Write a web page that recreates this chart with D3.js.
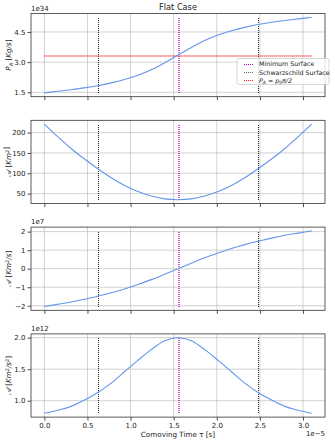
<!DOCTYPE html>
<html>
<head>
<meta charset="utf-8">
<script src="https://d3js.org/d3.v7.min.js"></script>
<style>
  body { margin: 0; background: #fff; }
  svg { font-family: "DejaVu Sans", sans-serif; }
</style>
</head>
<body>
<svg id="chart" width="335" height="441"></svg>
<script>
// comoving time, units of 1e-5 s
const tau = [0, 0.155, 0.31, 0.465, 0.62, 0.775, 0.93, 1.085, 1.24, 1.395, 1.55,
  1.705, 1.86, 2.015, 2.17, 2.325, 2.48, 2.635, 2.79, 2.945, 3.1];
// P_A, units of 1e34 Kg/s
const pA = [1.47, 1.55, 1.63, 1.72, 1.83, 1.97, 2.14, 2.35, 2.62, 2.97, 3.35,
  3.73, 4.08, 4.35, 4.56, 4.73, 4.87, 4.98, 5.07, 5.15, 5.23];
// A, Km^2
const area = [221, 190, 161, 135, 111, 89, 70, 55, 44, 37, 35,
  37, 44, 55, 70, 89, 111, 135, 161, 190, 221];
// dA/dt, units of 1e7 Km^2/s
const areaDot = [-2.04, -1.92, -1.80, -1.65, -1.48, -1.30, -1.09, -0.85, -0.59, -0.30, 0,
  0.30, 0.59, 0.85, 1.09, 1.30, 1.48, 1.65, 1.80, 1.92, 2.04];
// d2A/dt2, units of 1e12 Km^2/s^2
const areaDDot = [0.80, 0.85, 0.91, 1.01, 1.13, 1.28, 1.46, 1.64, 1.81, 1.95, 2.0,
  1.95, 1.81, 1.64, 1.46, 1.28, 1.13, 1.01, 0.91, 0.85, 0.80];

const tauMinSurface = 1.55;
const tauSchwarzschild = [0.62, 2.48];
const pHalf = 3.35; // p0*pi/2
const xTicks = [0, 0.5, 1.0, 1.5, 2.0, 2.5, 3.0];

const svg = d3.select('#chart');
const left = 31, right = 325;
const panelH = 83.2, step = 106.8, top0 = 13.5;

// x scale shared by all panels (matplotlib 5% margins)
const xPad = (d3.max(tau) - d3.min(tau)) * 0.05;
const x = d3.scaleLinear().domain([d3.min(tau) - xPad, d3.max(tau) + xPad]).range([left, right]);
const px = v => Math.round(x(v)) + 0.5; // crisp dotted lines

const panels = [
  { values: pA, ticks: [1.5, 3.0, 4.5], fmt: d3.format('.1f'), offset: '1e34', label: 'pa' },
  { values: area, ticks: [50, 100, 150, 200], fmt: d3.format('d'), offset: null, label: 'a' },
  { values: areaDot, ticks: [-2, -1, 0, 1, 2], fmt: d => d < 0 ? '\u2212' + Math.abs(d) : String(d), offset: '1e7', label: 'ad' },
  { values: areaDDot, ticks: [1.0, 1.5, 2.0], fmt: d3.format('.1f'), offset: '1e12', label: 'add' }
];

svg.append('text')
  .attr('x', (left + right) / 2).attr('y', 9.5)
  .attr('text-anchor', 'middle').attr('font-size', 8.2).attr('fill', '#222')
  .text('Flat Case');

panels.forEach((p, i) => {
  const top = top0 + i * step, bottom = top + panelH;
  const lo = d3.min(p.values), hi = d3.max(p.values);
  const pad = (hi - lo) * 0.05;
  const y = d3.scaleLinear().domain([lo - pad, hi + pad]).range([bottom, top]);
  const yLo = Math.round(y(lo)), yHi = Math.round(y(hi));
  const g = svg.append('g');

  // grid
  g.selectAll('.gx').data(xTicks).join('line')
    .attr('x1', d => x(d)).attr('x2', d => x(d)).attr('y1', top).attr('y2', bottom)
    .attr('stroke', '#b0b0b0').attr('stroke-width', 0.8).attr('opacity', 0.7);
  g.selectAll('.gy').data(p.ticks).join('line')
    .attr('x1', left).attr('x2', right).attr('y1', d => y(d)).attr('y2', d => y(d))
    .attr('stroke', '#b0b0b0').attr('stroke-width', 0.8).attr('opacity', 0.7);

  // axes
  const ya = g.append('g').attr('transform', `translate(${left},0)`)
    .call(d3.axisLeft(y).tickValues(p.ticks).tickFormat(p.fmt).tickSize(3.5).tickPadding(2));
  const xa = g.append('g').attr('transform', `translate(0,${bottom})`)
    .call(d3.axisBottom(x).tickValues(xTicks).tickFormat(i === 3 ? d3.format('.1f') : '').tickSize(3.5).tickPadding(2));
  [ya, xa].forEach(a => {
    a.select('.domain').remove();
    a.selectAll('text').attr('font-size', 7).attr('fill', '#222').attr('font-family', 'DejaVu Sans');
    a.selectAll('line').attr('stroke', '#222').attr('stroke-width', 0.8);
  });

  // vertical markers
  tauSchwarzschild.forEach(t => {
    g.append('line').attr('x1', px(t)).attr('x2', px(t)).attr('y1', yLo).attr('y2', yHi)
      .attr('stroke', '#222').attr('stroke-width', 1).attr('stroke-dasharray', '1,1');
  });
  // minimum surface, left unsnapped so it spreads over two columns like the reference
  g.append('line').attr('x1', Math.round(x(tauMinSurface)) + 1).attr('x2', Math.round(x(tauMinSurface)) + 1)
    .attr('y1', yLo).attr('y2', yHi)
    .attr('stroke', '#bf00bf').attr('stroke-width', 1.3).attr('stroke-dasharray', '1,1');

  if (i === 0) {
    g.append('line').attr('x1', x(tau[0])).attr('x2', x(tau[tau.length - 1]))
      .attr('y1', Math.round(y(pHalf)) + 1).attr('y2', Math.round(y(pHalf)) + 1)
      .attr('stroke', '#ff2020').attr('stroke-width', 1.3).attr('stroke-dasharray', '1,1');
  }

  // curve
  g.append('path')
    .datum(tau.map((t, k) => [t, p.values[k]]))
    .attr('d', d3.line().x(d => x(d[0])).y(d => y(d[1])).curve(d3.curveMonotoneX))
    .attr('fill', 'none').attr('stroke', '#6495ed').attr('stroke-width', 1.1);

  // frame
  g.append('rect').attr('x', left).attr('y', top).attr('width', right - left).attr('height', panelH)
    .attr('fill', 'none').attr('stroke', '#333').attr('stroke-width', 0.8);

  if (p.offset) {
    g.append('text').attr('x', left).attr('y', top - 3).attr('font-size', 7).attr('fill', '#222').text(p.offset);
  }

  // y label
  const lab = g.append('text')
    .attr('transform', `translate(11,${(top + bottom) / 2}) rotate(-90)`)
    .attr('text-anchor', 'middle').attr('font-size', 7.2).attr('fill', '#222');
  if (p.label === 'pa') {
    lab.append('tspan').attr('font-style', 'italic').text('P');
    lab.append('tspan').attr('font-style', 'italic').attr('font-size', 5).attr('dy', 1.5).text('A');
    lab.append('tspan').attr('dy', -1.5).text(' [');
    lab.append('tspan').attr('font-style', 'italic').text('Kg/s');
    lab.append('tspan').text(']');
  } else {
    const acc = { a: '', ad: '\u0307', add: '\u0308' }[p.label];
    lab.append('tspan').attr('font-style', 'italic').text('\ud835\udc9c' + acc);
    lab.append('tspan').text(' [');
    lab.append('tspan').attr('font-style', 'italic').text('Km');
    lab.append('tspan').attr('font-size', 5).attr('dy', -2.5).text('2');
    const units = { a: '', ad: '/s', add: '/s' }[p.label];
    lab.append('tspan').attr('font-style', 'italic').attr('dy', 2.5).text(units);
    if (p.label === 'add') {
      lab.append('tspan').attr('font-size', 5).attr('dy', -2.5).text('2');
      lab.append('tspan').attr('dy', 2.5).text(']');
    } else {
      lab.append('tspan').text(']');
    }
  }
});

// x label and offset
svg.append('text').attr('x', (left + right) / 2).attr('y', 437)
  .attr('text-anchor', 'middle').attr('font-size', 7.2).attr('fill', '#222')
  .text('Comoving Time \u03c4 [s]');
svg.append('text').attr('x', right).attr('y', 436)
  .attr('text-anchor', 'end').attr('font-size', 7).attr('fill', '#222').text('1e\u22125');

// legend
const lg = svg.append('g').attr('transform', 'translate(237,58.5)');
lg.append('rect').attr('width', 92).attr('height', 26).attr('rx', 1.5)
  .attr('fill', '#fff').attr('fill-opacity', 0.8).attr('stroke', '#ccc').attr('stroke-width', 0.8);
const legendItems = [
  { color: '#bf00bf', text: 'Minimum Surface' },
  { color: '#666', text: 'Schwarzschild Surface' },
  { color: '#ff2020', text: null }
];
legendItems.forEach((d, k) => {
  const yy = 5.5 + k * 8.3;
  lg.append('line').attr('x1', 7).attr('x2', 17).attr('y1', Math.round(yy)).attr('y2', Math.round(yy))
    .attr('stroke', d.color).attr('stroke-width', 1.2).attr('stroke-dasharray', '1,1');
  const t = lg.append('text').attr('x', 22).attr('y', yy + 2.3).attr('font-size', 6.3).attr('fill', '#222');
  if (d.text) {
    t.text(d.text);
  } else {
    t.append('tspan').attr('font-style', 'italic').text('P');
    t.append('tspan').attr('font-style', 'italic').attr('font-size', 4.5).attr('dy', 1.2).text('A');
    t.append('tspan').attr('dy', -1.2).text(' = ');
    t.append('tspan').attr('font-style', 'italic').text('p');
    t.append('tspan').attr('font-size', 4.5).attr('dy', 1.2).text('0');
    t.append('tspan').attr('font-style', 'italic').attr('dy', -1.2).text('\u03c0/2');
  }
});
</script>
</body>
</html>
